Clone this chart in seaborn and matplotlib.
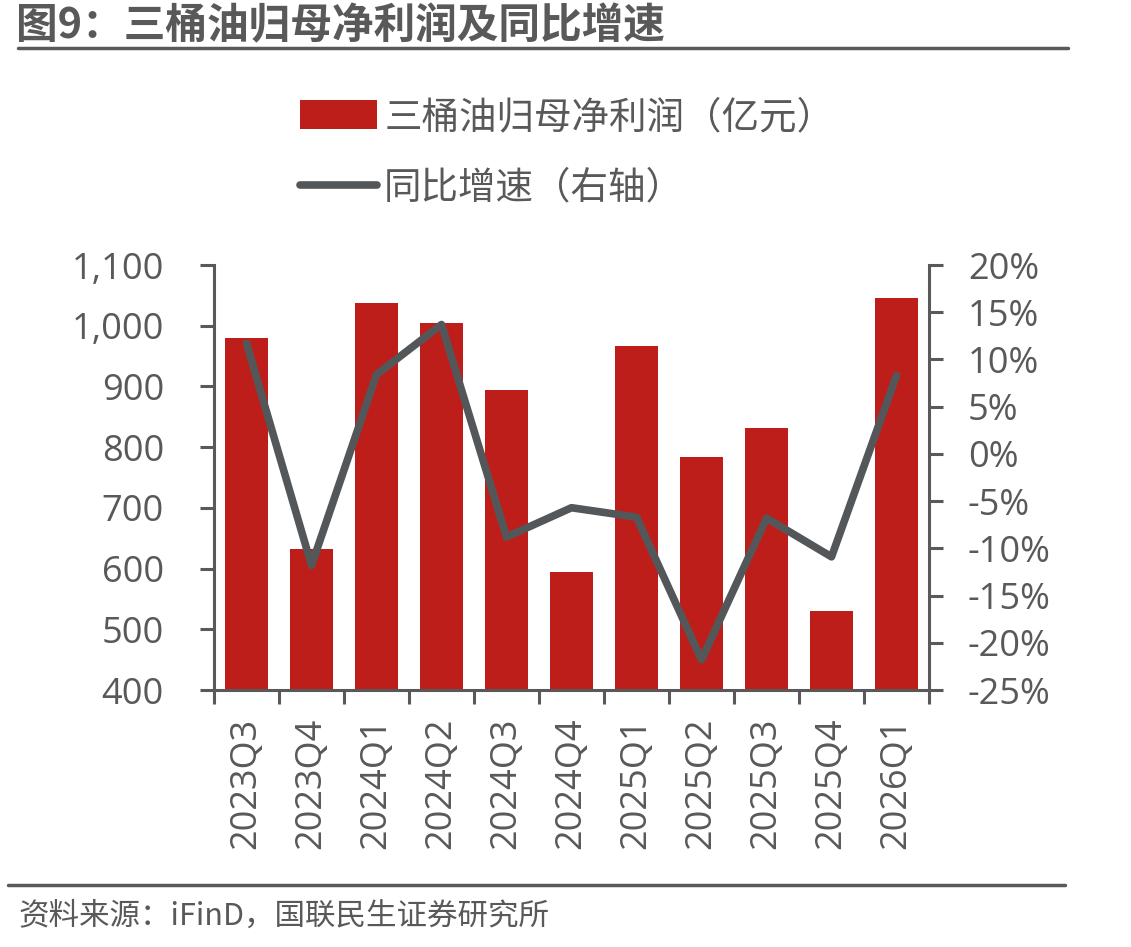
import matplotlib
matplotlib.use("Agg")
import matplotlib.pyplot as plt
import matplotlib.ticker as mticker
import seaborn as sns
import pandas as pd
from matplotlib.lines import Line2D
from matplotlib.patches import Patch

quarters = ["2023Q3", "2023Q4", "2024Q1", "2024Q2", "2024Q3", "2024Q4",
            "2025Q1", "2025Q2", "2025Q3", "2025Q4", "2026Q1"]
profit = [980, 632, 1037, 1004, 894, 594, 967, 784, 832, 530, 1045]
yoy = [11.7, -11.8, 8.4, 13.7, -8.8, -5.7, -6.7, -21.8, -6.8, -10.9, 8.3]

bar_label = "三桶油归母净利润（亿元）"
line_label = "同比增速（右轴）"
title = "图9：三桶油归母净利润及同比增速"
source = "资料来源：iFinD，国联民生证券研究所"

sns.set_theme(style="white")
plt.rcParams['font.family'] = ['Noto Sans CJK SC', 'DejaVu Sans']

RED = "#BE1E1A"
GRAY = "#54575A"
TXT = "#595959"

df = pd.DataFrame({"q": quarters, "profit": profit, "yoy": yoy})

fig = plt.figure(figsize=(11.31, 9.47), dpi=100)
ax = fig.add_axes([214/1131, 1-690/947, (929-214)/1131, (690-265)/947])

sns.barplot(data=df, x="q", y="profit", color=RED, width=0.65, ax=ax,
            saturation=1, edgecolor="none")
ax.set_ylim(400, 1100)
ax.set_xlim(-0.5, len(quarters)-0.5)
ax.yaxis.set_major_locator(mticker.MultipleLocator(100))
ax.yaxis.set_major_formatter(mticker.FuncFormatter(lambda v, p: f"{int(v):,}"))
ax.set_xlabel("")
ax.set_ylabel("")

ax2 = ax.twinx()
sns.lineplot(x=list(range(len(quarters))), y=yoy, ax=ax2, color=GRAY,
             linewidth=5.5, solid_capstyle="round", solid_joinstyle="round")
ax2.set_ylim(-25, 20)
ax2.yaxis.set_major_locator(mticker.MultipleLocator(5))
ax2.yaxis.set_major_formatter(mticker.FuncFormatter(lambda v, p: f"{int(round(v))}%"))
ax2.set_xlim(-0.5, len(quarters)-0.5)

for a in (ax, ax2):
    for s in a.spines.values():
        s.set_visible(False)
    a.grid(False)

ax.spines['left'].set_visible(True)
ax.spines['bottom'].set_visible(True)
ax2.spines['right'].set_visible(True)
for s in [ax.spines['left'], ax.spines['bottom'], ax2.spines['right']]:
    s.set_color(TXT)
    s.set_linewidth(2.2)

ax.tick_params(axis='y', which='major', direction='out', length=10, width=2.2,
               color=TXT, labelcolor=TXT, labelsize=26, pad=26, left=True)
ax2.tick_params(axis='y', which='major', direction='out', length=10, width=2.2,
                color=TXT, labelcolor=TXT, labelsize=26, pad=18, right=True)
# x ticks at category boundaries
ax.set_xticks([i for i in range(len(quarters))])
ax.set_xticklabels(quarters, rotation=90, fontsize=26, color=TXT)
ax.tick_params(axis='x', which='major', length=0, pad=20)
ax.set_xticks([i - 0.5 for i in range(len(quarters)+1)], minor=True)
ax.tick_params(axis='x', which='minor', direction='out', length=10, width=2.2,
               color=TXT, bottom=True)
for lab in ax.get_yticklabels() + ax2.get_yticklabels() + ax.get_xticklabels():
    lab.set_family(['Open Sans', 'DejaVu Sans'])

# Legend
handles = [Patch(facecolor=RED, edgecolor='none'),
           Line2D([0], [0], color=GRAY, linewidth=5.5, solid_capstyle='round')]
leg = fig.legend(handles, [bar_label, line_label], loc='upper left',
                 bbox_to_anchor=(266/1131, 1-64/947), frameon=False,
                 fontsize=27, handlelength=2.05, handleheight=0.8,
                 handletextpad=0.2, labelspacing=0.85)
for t in leg.get_texts():
    t.set_color(TXT)

# Title and rules
fig.text(16/1131, 1-26/947, title, fontsize=30, fontweight='bold', color=TXT,
         ha='left', va='center')
fig.add_artist(Line2D([18/1131, 1068/1131], [1-48/947, 1-48/947],
                      color=TXT, linewidth=2.5, transform=fig.transFigure))
fig.add_artist(Line2D([8/1131, 1065/1131], [1-885/947, 1-885/947],
                      color=TXT, linewidth=2.5, transform=fig.transFigure))
fig.text(18/1131, 1-916/947, source, fontsize=22, color=TXT,
         ha='left', va='center')

fig.savefig("out.png", dpi=100)
